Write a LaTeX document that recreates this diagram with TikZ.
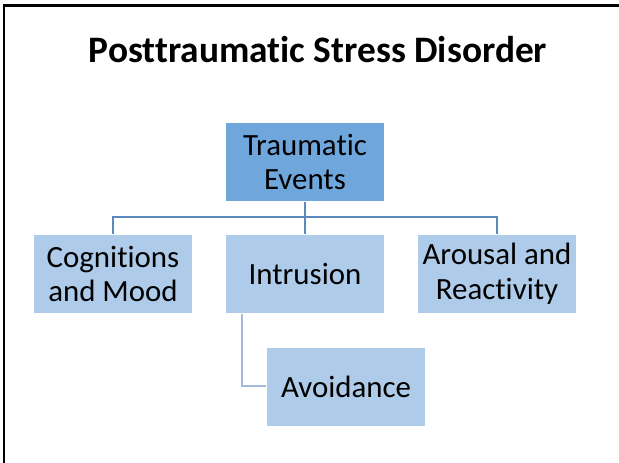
\documentclass[tikz,border=0pt]{standalone}
\usepackage{fontspec}
\setmainfont[Ligatures=NoCommon]{Carlito}
\definecolor{darkbox}{HTML}{6FA6DC}
\definecolor{lightbox}{HTML}{AECBEA}
\definecolor{treeline}{HTML}{5B88BE}
\definecolor{sideline}{HTML}{9FBCE0}
\tikzset{
  x=1bp, y=-1bp,
  box/.style={draw=white, line width=1bp, fill=lightbox, minimum width=159bp, minimum height=79bp,
    align=center, inner sep=0pt, font=\fontsize{31}{35}\selectfont, anchor=north west},
  topbox/.style={box, fill=darkbox},
  tree/.style={draw=treeline, line width=1.2bp},
  side/.style={draw=sideline, line width=1.2bp}
}
\begin{document}
\begin{tikzpicture}
\useasboundingbox (0,0) rectangle (619,463);
\fill[white] (0,0) rectangle (619,463);
\draw[line width=2.5bp] (4,463) -- (4,5.5) -- (619,5.5);
\node[font=\bfseries\fontsize{37.5}{42}\selectfont] (title) at (318,50) {Posttraumatic Stress Disorder};
\node[topbox] (te) at (225,122) {Traumatic\\Events};
\node[box] (cm) at (33,234) {Cognitions\\and Mood};
\node[box] (in) at (225,234) {Intrusion};
\node[box] (ar) at (417,234) {Arousal and\\Reactivity};
\node[box] (av) at (266,347) {Avoidance};
\coordinate (bar) at (0,217);
\draw[tree] (te.south) -- (te.south |- bar);
\draw[tree] (cm.north) -- (cm.north |- bar) -- (ar.north |- bar) -- (ar.north);
\draw[tree] (te.south |- bar) -- (in.north);
\coordinate (elbow) at (242,386);
\draw[side] (in.south -| elbow) -- (elbow) -- (av.west |- elbow);
\end{tikzpicture}
\end{document}
